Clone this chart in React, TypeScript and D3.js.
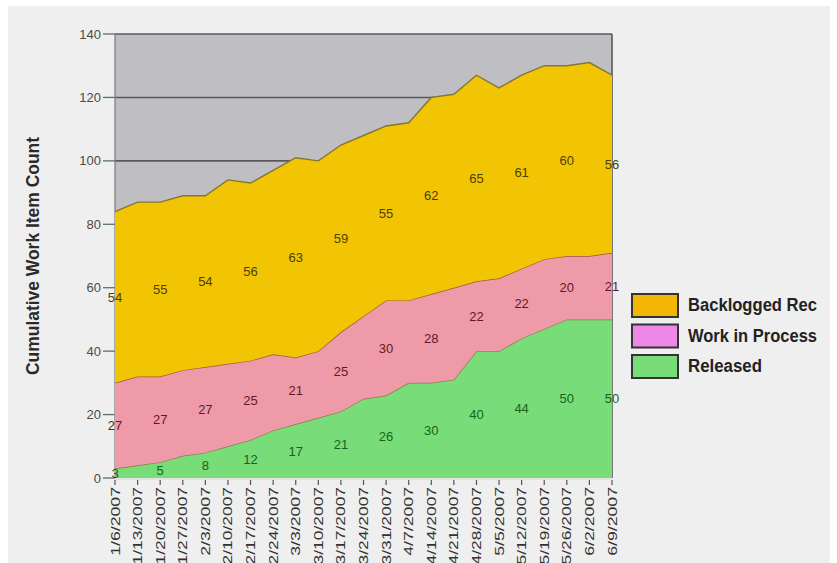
import React from "react";
import * as d3 from "d3";

// Weekly snapshot dates
const dates = [
  "1/6/2007", "1/13/2007", "1/20/2007", "1/27/2007", "2/3/2007", "2/10/2007",
  "2/17/2007", "2/24/2007", "3/3/2007", "3/10/2007", "3/17/2007", "3/24/2007",
  "3/31/2007", "4/7/2007", "4/14/2007", "4/21/2007", "4/28/2007", "5/5/2007",
  "5/12/2007", "5/19/2007", "5/26/2007", "6/2/2007", "6/9/2007",
];

// Work item counts per state, per week
const released = [3, 4, 5, 7, 8, 10, 12, 15, 17, 19, 21, 25, 26, 30, 30, 31, 40, 40, 44, 47, 50, 50, 50];
const workInProcess = [27, 28, 27, 27, 27, 26, 25, 24, 21, 21, 25, 26, 30, 26, 28, 29, 22, 23, 22, 22, 20, 20, 21];
const backlogged = [54, 55, 55, 55, 54, 58, 56, 58, 63, 60, 59, 57, 55, 56, 62, 61, 65, 60, 61, 61, 60, 61, 56];

const yTicks = [0, 20, 40, 60, 80, 100, 120, 140];

const seriesKeys = ["released", "wip", "backlog"];
const legendLabels = ["Backlogged Rec", "Work in Process", "Released"];

const W = 837;
const H = 563;
const plot = { left: 115, right: 612, top: 34, bottom: 478 };

const fills: Record<string, string> = {
  released: "#78dc78",
  wip: "#ef9aa9",
  backlog: "#f1c404",
};
const strokes: Record<string, string> = {
  released: "#8a7a44",
  wip: "#9c5a3c",
  backlog: "#857535",
};
const labelColors: Record<string, string> = {
  released: "#17631a",
  wip: "#62182c",
  backlog: "#4d3f06",
};
const legendFills = ["#f2b705", "#ee88e6", "#78dc78"];

export default function App() {
  const rows = dates.map((d, i) => ({
    date: d,
    released: released[i],
    wip: workInProcess[i],
    backlog: backlogged[i],
  }));

  const stacked = d3.stack<any>().keys(seriesKeys)(rows);

  const x = d3.scalePoint<string>().domain(dates).range([plot.left, plot.right]);
  const y = d3.scaleLinear().domain([0, 140]).range([plot.bottom, plot.top]);

  const area = d3
    .area<any>()
    .x((d) => x(d.data.date) as number)
    .y0((d) => y(d[0]))
    .y1((d) => y(d[1]));
  const topLine = d3
    .line<any>()
    .x((d) => x(d.data.date) as number)
    .y((d) => y(d[1]));

  const font = "'Liberation Sans', Arial, sans-serif";
  const narrow = "'Liberation Sans Narrow', 'Liberation Sans', Arial, sans-serif";

  return (
    <svg
      width={W}
      height={H}
      style={{ position: "absolute", left: 0, top: 0, display: "block" }}
    >
      <rect x={0} y={0} width={W} height={H} fill="#ffffff" />
      <rect x={8} y={6} width={822} height={H - 6} fill="#efefef" />

      {/* plot background and gridlines */}
      <rect
        x={plot.left}
        y={plot.top}
        width={plot.right - plot.left}
        height={plot.bottom - plot.top}
        fill="#bfbfc3"
      />
      {yTicks.map((t) => (
        <g key={t}>
          {t > 0 && (
            <line
              x1={plot.left}
              x2={plot.right}
              y1={y(t)}
              y2={y(t)}
              stroke="#58585a"
              strokeWidth={1.6}
            />
          )}
          <line x1={103} x2={plot.left} y1={y(t)} y2={y(t)} stroke="#6a6a6a" strokeWidth={1.3} />
          <text
            x={101}
            y={y(t)}
            dy="0.35em"
            textAnchor="end"
            fontFamily={font}
            fontSize={13}
            fill="#4a4a4a"
          >
            {t}
          </text>
        </g>
      ))}
      <line x1={plot.right} x2={plot.right} y1={plot.top} y2={plot.bottom} stroke="#58585a" strokeWidth={1.6} />
      <line x1={plot.left} x2={plot.left} y1={plot.top} y2={plot.bottom} stroke="#7a7a7a" strokeWidth={1.2} />

      {/* stacked areas */}
      {stacked.map((s) => (
        <g key={s.key}>
          <path d={area(s) as string} fill={fills[s.key]} />
          <path d={topLine(s) as string} fill="none" stroke={strokes[s.key]} strokeWidth={1.4} />
        </g>
      ))}

      {/* value labels on alternate weeks, centred in each band */}
      {stacked.map((s) =>
        s.map((d: any, i: number) =>
          i % 2 === 0 ? (
            <text
              key={s.key + i}
              x={x(d.data.date) as number}
              y={y((d[0] + d[1]) / 2)}
              dy="0.35em"
              textAnchor="middle"
              fontFamily={font}
              fontSize={13}
              fill={labelColors[s.key]}
            >
              {d[1] - d[0]}
            </text>
          ) : null
        )
      )}

      {/* x axis */}
      <line x1={plot.left} x2={plot.right} y1={plot.bottom + 1} y2={plot.bottom + 1} stroke="#d8d8d8" strokeWidth={1} />
      {dates.map((d) => {
        const px = x(d) as number;
        return (
          <g key={d}>
            <line x1={px} x2={px} y1={plot.bottom + 2} y2={plot.bottom + 7} stroke="#555" strokeWidth={1.2} />
            <text
              transform={`translate(${px + 4.5},${plot.bottom + 9}) rotate(-90)`}
              textAnchor="end"
              fontFamily={font}
              fontSize={13}
              fill="#333"
              textLength={d.length * 8.6}
              lengthAdjust="spacingAndGlyphs"
            >
              {d}
            </text>
          </g>
        );
      })}

      {/* y axis title */}
      <text
        transform={`translate(39,256) rotate(-90)`}
        textAnchor="middle"
        fontFamily={narrow}
        fontWeight="bold"
        fontSize={18}
        fill="#2a2a2a"
        textLength={238}
        lengthAdjust="spacingAndGlyphs"
      >
        Cumulative Work Item Count
      </text>

      {/* legend */}
      {legendLabels.map((label, i) => (
        <g key={label} transform={`translate(632,${294 + i * 30.5})`}>
          <rect x={0} y={0} width={46} height={23} fill={legendFills[i]} stroke="#333" strokeWidth={2} />
          <text
            x={56}
            y={17}
            fontFamily={narrow}
            fontWeight="bold"
            fontSize={18}
            fill="#222"
            textLength={label === "Released" ? 74 : 129}
            lengthAdjust="spacingAndGlyphs"
          >
            {label}
          </text>
        </g>
      ))}
    </svg>
  );
}
